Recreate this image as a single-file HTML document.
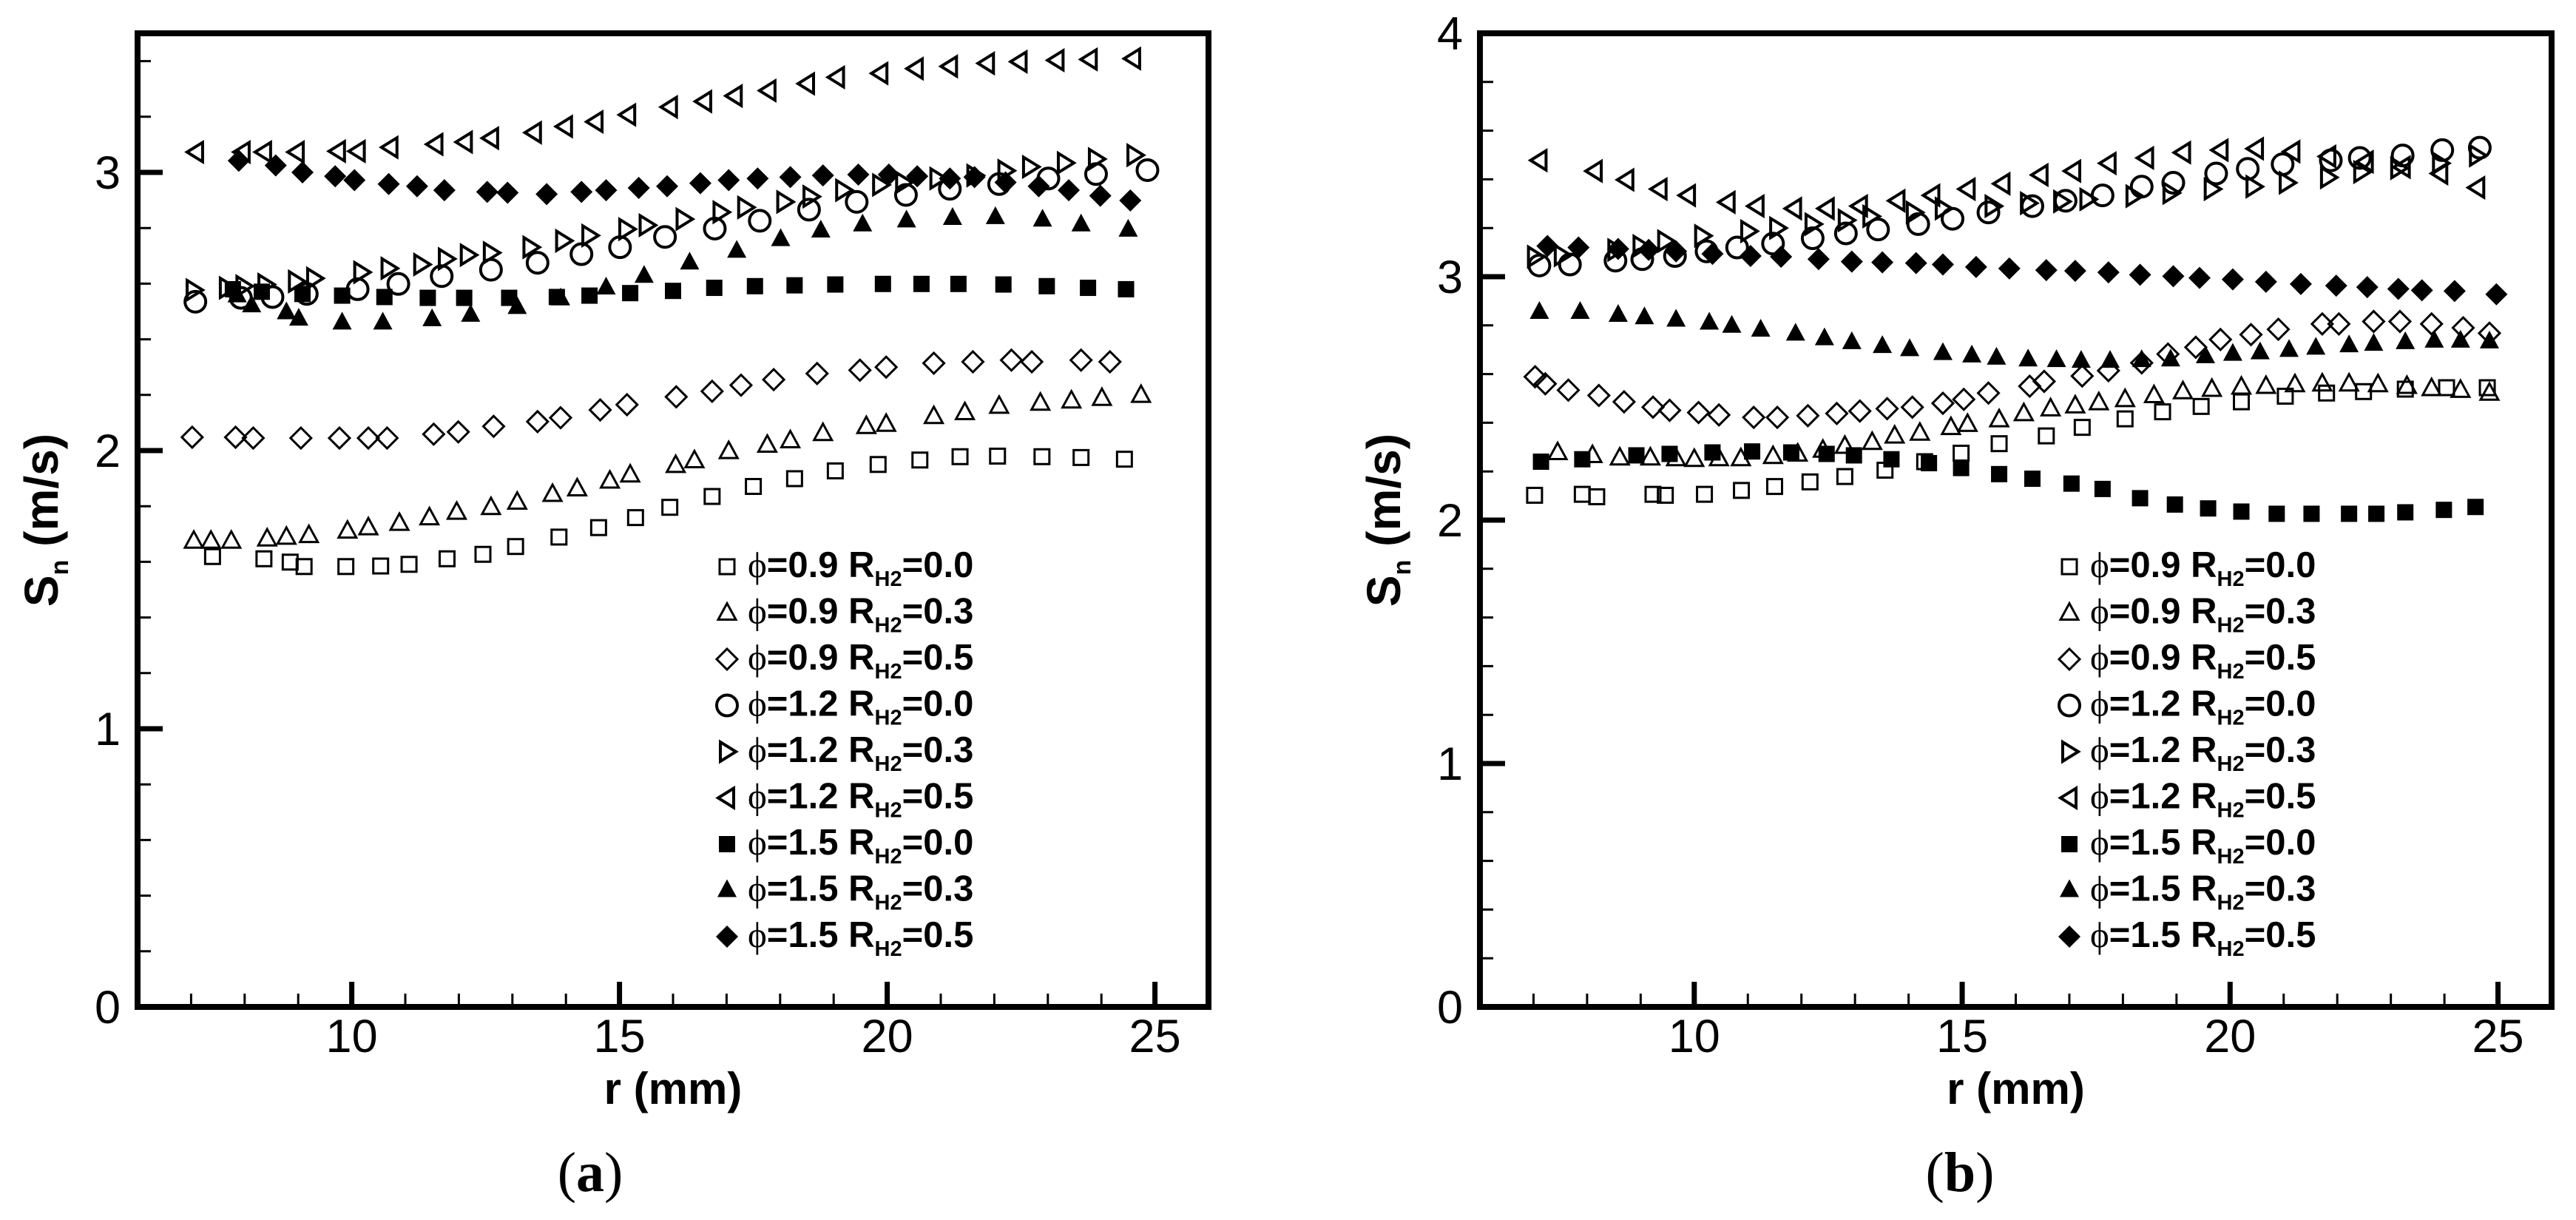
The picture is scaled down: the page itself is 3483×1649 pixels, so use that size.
<!DOCTYPE html>
<html><head><meta charset="utf-8"><title>Sn vs r</title>
<style>html,body{margin:0;padding:0;background:#fff}svg{display:block}</style></head>
<body>
<svg id="fig" xmlns="http://www.w3.org/2000/svg" width="3483" height="1649" viewBox="0 0 3483 1649"></svg>
<script>
const xTicks = [10, 15, 20, 25];
const yTicksA = [0, 1, 2, 3];
const yTicksB = [0, 1, 2, 3, 4];
const legendLabels = ["0.9|0.0","0.9|0.3","0.9|0.5","1.2|0.0","1.2|0.3","1.2|0.5","1.5|0.0","1.5|0.3","1.5|0.5"];
const seriesNames = ["phi09-r00","phi09-r03","phi09-r05","phi12-r00","phi12-r03","phi12-r05","phi15-r00","phi15-r03","phi15-r05"];
const seriesShapes = ["osq","otri","odia","ocir","rtri","ltri","fsq","ftri","fdia"];

// Panel (a) data
const a0x=[7.40,8.36,8.85,9.11,9.89,10.54,11.07,11.78,12.45,13.06,13.87,14.61,15.30,15.94,16.73,17.50,18.27,19.03,19.83,20.61,21.36,22.06,22.89,23.62,24.43];
const a0y=[1.619,1.611,1.599,1.583,1.583,1.585,1.591,1.611,1.627,1.655,1.689,1.723,1.759,1.796,1.835,1.871,1.899,1.927,1.950,1.966,1.978,1.980,1.978,1.975,1.969];
const a1x=[7.05,7.37,7.75,8.42,8.78,9.20,9.92,10.31,10.89,11.45,11.96,12.60,13.09,13.75,14.21,14.82,15.20,16.05,16.40,17.04,17.76,18.19,18.80,19.61,19.98,20.87,21.45,22.09,22.86,23.44,24.01,24.74];
const a1y=[1.675,1.675,1.675,1.683,1.689,1.695,1.711,1.723,1.739,1.759,1.779,1.796,1.815,1.843,1.863,1.891,1.913,1.947,1.964,1.997,2.020,2.036,2.062,2.087,2.095,2.123,2.137,2.160,2.171,2.179,2.188,2.199];
const a2x=[7.02,7.83,8.16,9.05,9.77,10.31,10.66,11.53,11.99,12.65,13.47,13.90,14.64,15.14,16.06,16.73,17.27,17.88,18.69,19.49,19.98,20.87,21.60,22.32,22.70,23.62,24.16];
const a2y=[2.048,2.048,2.045,2.045,2.045,2.045,2.045,2.059,2.067,2.087,2.104,2.118,2.146,2.165,2.193,2.213,2.235,2.255,2.277,2.289,2.300,2.314,2.319,2.325,2.319,2.325,2.319];
const a3x=[7.08,7.93,8.52,9.16,10.11,10.87,11.68,12.60,13.47,14.29,15.01,15.85,16.78,17.62,18.54,19.43,20.35,21.17,22.09,23.01,23.90,24.86];
const a3y=[2.535,2.549,2.552,2.563,2.580,2.599,2.627,2.650,2.675,2.706,2.731,2.768,2.798,2.826,2.866,2.894,2.919,2.941,2.958,2.978,2.994,3.008];
const a4x=[7.05,7.67,7.98,8.39,8.96,9.30,10.18,10.69,11.30,11.76,12.17,12.60,13.34,13.95,14.44,15.13,15.51,16.20,16.89,17.35,18.08,18.57,19.18,19.87,20.30,20.94,21.63,22.21,22.67,23.32,23.90,24.62];
const a4y=[2.577,2.585,2.591,2.597,2.608,2.619,2.641,2.655,2.669,2.689,2.703,2.711,2.731,2.754,2.773,2.796,2.810,2.832,2.857,2.874,2.894,2.913,2.936,2.955,2.964,2.978,2.989,3.006,3.020,3.034,3.048,3.062];
const a5x=[7.09,7.96,8.36,8.97,9.74,10.11,10.72,11.56,12.11,12.60,13.40,13.98,14.55,15.16,15.94,16.58,17.15,17.78,18.50,19.06,19.87,20.53,21.17,21.86,22.47,23.16,23.78,24.59];
const a5y=[3.073,3.073,3.073,3.073,3.076,3.076,3.090,3.101,3.109,3.123,3.143,3.165,3.182,3.207,3.235,3.255,3.275,3.294,3.319,3.342,3.356,3.373,3.381,3.392,3.398,3.403,3.406,3.409];
const a6x=[7.78,8.32,9.08,9.82,10.61,11.42,12.10,12.94,13.83,14.44,15.20,16.00,16.77,17.53,18.27,19.03,19.92,20.64,21.33,22.17,22.98,23.75,24.46];
const a6y=[2.580,2.571,2.563,2.557,2.552,2.549,2.549,2.549,2.552,2.557,2.566,2.574,2.585,2.591,2.594,2.597,2.599,2.599,2.599,2.597,2.591,2.585,2.580];
const a7x=[7.86,8.13,8.78,9.01,9.82,10.58,11.50,12.22,13.09,13.90,14.75,15.46,16.31,17.19,18.01,18.76,19.54,20.36,21.22,22.02,22.90,23.62,24.50];
const a7y=[2.557,2.521,2.496,2.473,2.459,2.459,2.471,2.487,2.515,2.546,2.585,2.627,2.675,2.717,2.759,2.790,2.812,2.826,2.835,2.838,2.829,2.812,2.793];
const a8x=[7.89,8.58,9.08,9.69,10.05,10.69,11.22,11.73,12.53,12.91,13.64,14.29,14.75,15.36,15.89,16.51,17.04,17.58,18.19,18.80,19.46,20.03,20.56,21.17,21.63,22.21,22.83,23.39,23.98,24.54];
const a8y=[3.042,3.025,3.000,2.986,2.972,2.958,2.950,2.936,2.930,2.927,2.922,2.930,2.936,2.944,2.950,2.961,2.972,2.978,2.983,2.989,2.992,2.992,2.986,2.978,2.983,2.964,2.950,2.936,2.916,2.899];

// Panel (b) data
const b0x=[7.02,7.91,8.18,9.23,9.46,10.19,10.88,11.50,12.16,12.81,13.56,14.30,14.98,15.69,16.57,17.24,18.04,18.74,19.46,20.21,21.03,21.80,22.49,23.27,24.04,24.80];
const b0y=[2.102,2.106,2.096,2.106,2.102,2.106,2.122,2.138,2.157,2.179,2.205,2.240,2.275,2.314,2.346,2.381,2.416,2.445,2.467,2.486,2.509,2.522,2.528,2.538,2.544,2.544];
const b1x=[7.45,8.10,8.61,9.18,9.66,10.00,10.46,10.87,11.47,11.93,12.40,12.81,13.32,13.74,14.21,14.79,15.10,15.69,16.15,16.65,17.11,17.55,18.04,18.58,19.12,19.66,20.21,20.67,21.21,21.72,22.22,22.76,23.30,23.76,24.30,24.84];
const b1y=[2.278,2.266,2.256,2.256,2.253,2.250,2.253,2.253,2.262,2.272,2.288,2.304,2.320,2.346,2.358,2.381,2.394,2.413,2.438,2.458,2.470,2.483,2.496,2.512,2.528,2.538,2.547,2.550,2.557,2.560,2.560,2.557,2.550,2.541,2.534,2.522];
const b2x=[7.03,7.22,7.65,8.22,8.69,9.23,9.54,10.08,10.46,11.11,11.55,12.12,12.66,13.09,13.60,14.07,14.64,15.03,15.49,16.26,16.53,17.24,17.73,18.35,18.84,19.36,19.82,20.39,20.90,21.72,22.03,22.68,23.17,23.76,24.35,24.84];
const b2y=[2.589,2.560,2.534,2.512,2.486,2.464,2.451,2.442,2.432,2.422,2.422,2.429,2.438,2.448,2.458,2.464,2.480,2.496,2.522,2.550,2.570,2.592,2.614,2.646,2.682,2.710,2.742,2.762,2.784,2.806,2.806,2.816,2.816,2.806,2.790,2.768];
const b3x=[7.11,7.68,8.53,9.03,9.64,10.23,10.80,11.47,12.21,12.83,13.43,14.18,14.82,15.49,16.31,16.93,17.62,18.35,18.94,19.74,20.33,20.98,21.88,22.42,23.22,23.96,24.66];
const b3y=[3.046,3.050,3.066,3.072,3.085,3.104,3.120,3.136,3.158,3.178,3.194,3.216,3.238,3.264,3.290,3.312,3.334,3.370,3.386,3.424,3.443,3.462,3.478,3.488,3.498,3.520,3.530];
const b4x=[7.03,7.53,8.53,9.00,9.46,10.15,11.01,11.55,12.21,12.83,13.29,14.10,14.64,15.57,16.23,16.85,17.34,18.20,18.89,19.66,20.44,21.06,21.83,22.45,23.14,23.92,24.61];
const b4y=[3.082,3.088,3.110,3.126,3.146,3.168,3.187,3.200,3.216,3.232,3.248,3.264,3.280,3.290,3.302,3.309,3.318,3.331,3.344,3.360,3.370,3.386,3.408,3.430,3.446,3.466,3.498];
const b5x=[7.11,8.14,8.73,9.35,9.88,10.62,11.16,11.86,12.47,13.09,13.79,14.44,15.10,15.75,16.46,17.07,17.73,18.43,19.12,19.82,20.48,21.16,21.83,22.53,23.22,23.92,24.61];
const b5y=[3.478,3.434,3.398,3.360,3.334,3.306,3.290,3.280,3.280,3.290,3.312,3.334,3.360,3.382,3.418,3.434,3.466,3.488,3.510,3.520,3.526,3.514,3.494,3.472,3.450,3.424,3.366];
const b6x=[7.14,7.91,8.92,9.54,10.34,11.08,11.81,12.47,12.98,13.68,14.38,14.98,15.69,16.31,17.04,17.62,18.32,18.97,19.59,20.21,20.87,21.52,22.22,22.73,23.27,23.99,24.58];
const b6y=[2.240,2.250,2.266,2.272,2.278,2.282,2.278,2.272,2.266,2.250,2.234,2.214,2.189,2.170,2.150,2.128,2.090,2.064,2.048,2.035,2.026,2.026,2.026,2.026,2.032,2.042,2.054];
const b7x=[7.11,7.87,8.58,9.07,9.66,10.28,10.70,11.24,11.89,12.43,12.94,13.51,14.02,14.64,15.18,15.64,16.23,16.76,17.22,17.76,18.35,18.89,19.54,20.05,20.56,21.10,21.60,22.22,22.68,23.27,23.81,24.30,24.84];
const b7y=[2.854,2.854,2.842,2.832,2.822,2.810,2.797,2.781,2.765,2.746,2.730,2.714,2.701,2.685,2.675,2.666,2.659,2.656,2.653,2.653,2.656,2.659,2.672,2.682,2.688,2.698,2.707,2.717,2.723,2.730,2.736,2.736,2.733];
const b8x=[7.26,7.84,8.58,9.15,9.66,10.34,11.05,11.62,12.32,12.94,13.51,14.14,14.64,15.26,15.88,16.57,17.11,17.73,18.32,18.94,19.43,20.05,20.67,21.32,21.98,22.56,23.14,23.58,24.19,24.97];
const b8y=[3.126,3.120,3.114,3.110,3.104,3.094,3.085,3.082,3.072,3.062,3.059,3.056,3.050,3.040,3.034,3.027,3.024,3.018,3.008,3.002,2.995,2.989,2.979,2.970,2.963,2.957,2.950,2.944,2.941,2.928];

const NS="http://www.w3.org/2000/svg";
const svg=document.getElementById('fig');
function mk(tag,attrs,parent){const e=document.createElementNS(NS,tag);for(const k in attrs)e.setAttribute(k,attrs[k]);(parent||svg).appendChild(e);return e;}

function marker(shape,cx,cy,parent){
  const sw=4;let e;
  const open={fill:'none',stroke:'#000','stroke-width':sw};
  const fill={fill:'#000',stroke:'none'};
  if(shape==='osq'){e=mk('rect',Object.assign({x:cx-10,y:cy-10,width:20,height:20},open,{'stroke-width':3}),parent);}
  else if(shape==='fsq'){e=mk('rect',Object.assign({x:cx-11,y:cy-11,width:22,height:22},fill),parent);}
  else if(shape==='ocir'){e=mk('circle',Object.assign({cx:cx,cy:cy,r:14},open),parent);}
  else if(shape==='otri'){e=mk('polygon',Object.assign({points:`${cx},${cy-13} ${cx+12},${cy+9} ${cx-12},${cy+9}`},open,{'stroke-width':3}),parent);}
  else if(shape==='ftri'){e=mk('polygon',Object.assign({points:`${cx},${cy-15} ${cx+13},${cy+9} ${cx-13},${cy+9}`},fill),parent);}
  else if(shape==='rtri'){e=mk('polygon',Object.assign({points:`${cx+12},${cy} ${cx-9},${cy-13} ${cx-9},${cy+13}`},open),parent);}
  else if(shape==='ltri'){e=mk('polygon',Object.assign({points:`${cx-12},${cy} ${cx+9},${cy-13} ${cx+9},${cy+13}`},open),parent);}
  else if(shape==='odia'){e=mk('polygon',Object.assign({points:`${cx},${cy-14} ${cx+14},${cy} ${cx},${cy+14} ${cx-14},${cy}`},open,{'stroke-width':3}),parent);}
  else if(shape==='fdia'){e=mk('polygon',Object.assign({points:`${cx},${cy-15} ${cx+15},${cy} ${cx},${cy+15} ${cx-15},${cy}`},fill),parent);}
  return e;
}

function panel(id,L,R,T,B,ymax,yTicks,xsArr,ysArr,label,labelCx){
  const g=mk('g',{});
  
  
  const X=v=>L+(v-6)/(26-6)*(R-L);
  const Y=v=>B-(v/ymax)*(B-T);
  for(let v=7;v<=25;v++){
    const major=xTicks.includes(v);
    const t=mk('line',{x1:X(v),x2:X(v),y1:B,y2:B-(major?34:18),stroke:'#000','stroke-width':major?7:3},g);
    
    
  }
  for(let k=1;k<ymax*5;k++){
    const v=k/5;const major=Math.abs(v-Math.round(v))<1e-6;
    const t=mk('line',{x1:L,x2:L+(major?34:18),y1:Y(v),y2:Y(v),stroke:'#000','stroke-width':major?7:3},g);
    
    
  }
  const fr=mk('rect',{x:L,y:T,width:R-L,height:B-T,fill:'none',stroke:'#000','stroke-width':8},g);
  
  
  xTicks.forEach(v=>{
    const t=mk('text',{x:X(v),y:B+61,'text-anchor':'middle','font-family':'Liberation Sans, Arial, sans-serif','font-size':63},g);
    t.textContent=String(v);
    
    
  });
  yTicks.forEach(v=>{
    const t=mk('text',{x:L-23,y:Y(v)+22,'text-anchor':'end','font-family':'Liberation Sans, Arial, sans-serif','font-size':63},g);
    t.textContent=String(v);
    
    
  });
  for(let s=0;s<9;s++){
    const sg=mk('g',{},g);
    
    
    const xs=xsArr[s],ys=ysArr[s];
    for(let i=0;i<xs.length;i++){
      const m=marker(seriesShapes[s],X(xs[i]),Y(ys[i]),sg);
      
      
    }
  }
  const lg=mk('g',{},g);
  
  
  for(let s=0;s<9;s++){
    const by=780+s*62.5;
    const eg=mk('g',{},lg);
    
    
    marker(seriesShapes[s],L+797,by-14,eg);
    const [phi,rh]=legendLabels[s].split('|');
    const t=mk('text',{x:L+825,y:by,'font-family':'Liberation Sans, Arial, sans-serif','font-size':49,'font-weight':'bold'},eg);
    t.innerHTML=`<tspan font-family="Liberation Serif, serif" font-weight="normal">ϕ</tspan>=${phi} R<tspan font-size="29" dy="12">H2</tspan><tspan dy="-12">=${rh}</tspan>`;
    
    
  }
  const xt=mk('text',{x:(L+R)/2,y:1492,'text-anchor':'middle','font-family':'Liberation Sans, Arial, sans-serif','font-size':60,'font-weight':'bold'},g);
  xt.textContent='r (mm)';
  
  
  const yt=mk('text',{x:0,y:0,transform:`translate(${L-108},${(T+B)/2}) rotate(-90)`,'text-anchor':'middle','font-family':'Liberation Sans, Arial, sans-serif','font-size':64,'font-weight':'bold'},g);
  yt.innerHTML='S<tspan font-size="34" dy="14">n</tspan><tspan dy="-14"> (m/s)</tspan>';
  
  
  const cap=mk('text',{x:labelCx,y:1610,'text-anchor':'middle','font-family':'Liberation Serif, Times New Roman, serif','font-size':76},g);
  cap.innerHTML=`(<tspan font-weight="bold">${label}</tspan>)`;
  
  
}

panel('a',186,1634,45,1361,3.5,yTicksA,[a0x,a1x,a2x,a3x,a4x,a5x,a6x,a7x,a8x],[a0y,a1y,a2y,a3y,a4y,a5y,a6y,a7y,a8y],'a',798);
panel('b',2001,3450,45,1361,4,yTicksB,[b0x,b1x,b2x,b3x,b4x,b5x,b6x,b7x,b8x],[b0y,b1y,b2y,b3y,b4y,b5y,b6y,b7y,b8y],'b',2650);
</script>
</body></html>
